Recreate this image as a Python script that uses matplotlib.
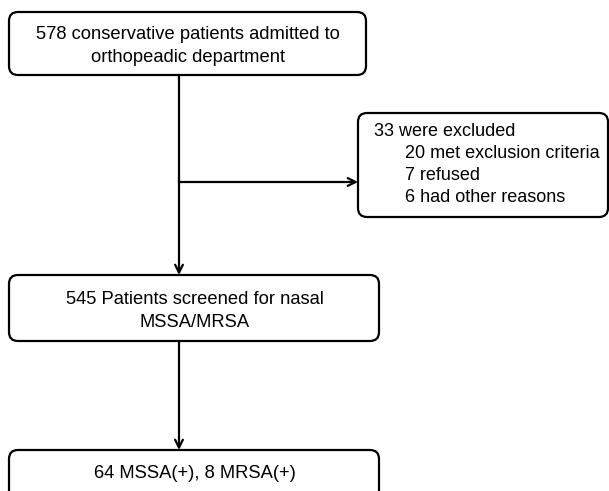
import matplotlib
matplotlib.use("Agg")
import matplotlib.pyplot as plt
from matplotlib.patches import FancyBboxPatch

# box geometry in pixel coords: (left, top, right, bottom)
box_names = ["admitted", "excluded", "screened", "result"]
box_extents = [(9, 12, 366, 75), (358, 113, 608, 217), (9, 275, 379, 341), (9, 450, 379, 500)]

admitted_text = "578 conservative patients admitted to\northopeadic department"
screened_text = "545 Patients screened for nasal\nMSSA/MRSA"
result_text = "64 MSSA(+), 8 MRSA(+)"
excluded_head = "33 were excluded"
excluded_items = ["20 met exclusion criteria", "7 refused", "6 had other reasons"]

plt.rcParams['font.family'] = ['Liberation Sans', 'DejaVu Sans']

fig = plt.figure(figsize=(6.09, 4.91), dpi=100)
ax = fig.add_axes([0, 0, 1, 1])
ax.set_xlim(0, 609)
ax.set_ylim(491, 0)
ax.axis('off')

for (l, t, r, b) in box_extents:
    ax.add_patch(FancyBboxPatch((l, t), r - l, b - t,
                                boxstyle="round,pad=0,rounding_size=9",
                                fc='white', ec='black', lw=1.6))

fs = 13.2
ax.text(188, 46, admitted_text, ha='center', va='center', fontsize=fs, linespacing=1.5)
ax.text(195, 311, screened_text, ha='center', va='center', fontsize=fs, linespacing=1.45)
ax.text(195, 474, result_text, ha='center', va='center', fontsize=fs)

ax.text(374, 131, excluded_head, ha='left', va='center', fontsize=13)
for i, item in enumerate(excluded_items):
    ax.text(405, 154 + 22 * i, item, ha='left', va='center', fontsize=13)

arrow = dict(arrowstyle='->', color='black', lw=1.6, shrinkA=0, shrinkB=0,
             mutation_scale=14)
x_main = 179
ax.plot([x_main, x_main], [75, 182], color='black', lw=1.6)
ax.annotate('', xy=(x_main, 275), xytext=(x_main, 180), arrowprops=arrow)
ax.annotate('', xy=(358, 182), xytext=(x_main, 182), arrowprops=arrow)
ax.annotate('', xy=(x_main, 450), xytext=(x_main, 341), arrowprops=arrow)

fig.savefig('out.png', dpi=100)
